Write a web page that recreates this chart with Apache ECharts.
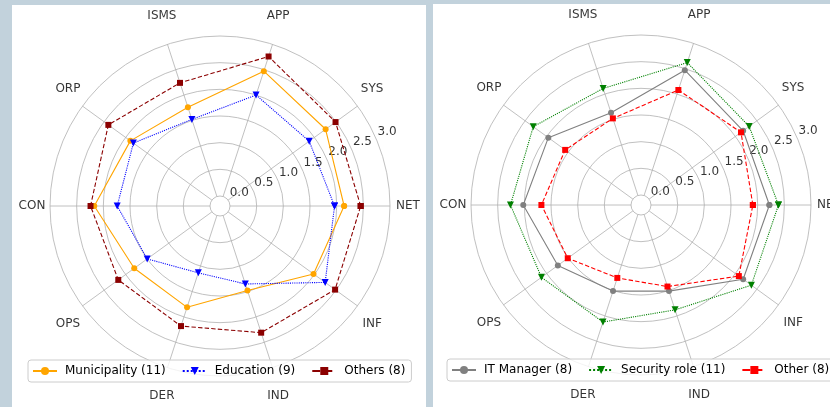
<!DOCTYPE html>
<html>
<head>
<meta charset="utf-8">
<script src="https://cdn.jsdelivr.net/npm/echarts@6/dist/echarts.min.js"></script>
<style>
  html, body { margin: 0; padding: 0; }
  body { width: 830px; height: 407px; background: #c2d2dc; position: relative; overflow: hidden; }
  .panel { position: absolute; background: #fff; }
  #chartLeft { left: 12px; top: 5px; width: 414px; height: 402px; }
  #chartRight { left: 433px; top: 4px; width: 397px; height: 403px; }
</style>
</head>
<body>
<div class="panel" id="chartLeft"></div>
<div class="panel" id="chartRight"></div>
<script>
// categories, counter-clockwise from 0 degrees
const categories = ['NET', 'SYS', 'APP', 'ISMS', 'ORP', 'CON', 'OPS', 'DER', 'IND', 'INF'];
const radialTicks = [0, 0.5, 1.0, 1.5, 2.0, 2.5, 3.0];

// left chart: sector
const municipality = [2.14, 2.26, 2.47, 1.76, 1.89, 2.17, 1.80, 1.81, 1.48, 1.98];
const education = [1.96, 1.88, 2.00, 1.52, 1.82, 1.74, 1.50, 1.13, 1.35, 2.25];
const others = [2.45, 2.49, 2.76, 2.24, 2.40, 2.24, 2.17, 2.18, 2.31, 2.48];

// right chart: role
const itManager = [2.22, 2.18, 2.47, 1.63, 1.96, 2.02, 1.74, 1.51, 1.51, 2.18];
const securityRole = [2.39, 2.32, 2.62, 2.11, 2.31, 2.26, 2.12, 2.12, 1.88, 2.37];
const otherRole = [1.91, 2.13, 2.08, 1.52, 1.57, 1.68, 1.51, 1.25, 1.42, 2.08];

const FONT = 'DejaVu Sans';
const GRID = '#b0b0b0';

const angleOf = (i) => i * 360 / categories.length;

function toPolar(vals) {
  let pts = vals.map((v, i) => [v, angleOf(i)]);
  pts.push(pts[0]); // close the loop
  return pts;
}

function lineSeries(name, vals, color, type, symbol) {
  return {
    name: name,
    type: 'line',
    coordinateSystem: 'polar',
    data: toPolar(vals),
    symbol: symbol,
    symbolSize: symbol === 'triangle' ? 7 : 6,
    symbolRotate: symbol === 'triangle' ? 180 : 0,
    itemStyle: { color: color },
    lineStyle: { color: color, width: 1.1, type: type },
    z: 3,
  };
}

function buildOption(series, legendLeft, itemGap) {
  return {
    animation: false,
    polar: {
      center: [208, 201],
      radius: [10, 170],
    },
    angleAxis: {
      type: 'value',
      min: 0,
      max: 360,
      interval: 36,
      startAngle: 0,
      clockwise: false,
      axisLine: { show: false },
      axisTick: { show: false },
      axisLabel: { show: false },
      splitLine: { lineStyle: { color: GRID, width: 0.8 } },
    },
    radiusAxis: {
      min: 0,
      max: 3,
      interval: 0.5,
      axisLine: { show: false },
      axisTick: { show: false },
      axisLabel: { show: false },
      splitLine: { lineStyle: { color: GRID, width: 0.8 } },
    },
    legend: {
      left: legendLeft,
      top: 355,
      width: 480,
      orient: 'horizontal',
      itemWidth: 24,
      itemHeight: 10,
      itemGap: itemGap,
      padding: [5, 6, 5, 4],
      backgroundColor: 'rgba(255,255,255,0.8)',
      borderColor: '#cccccc',
      borderWidth: 1,
      borderRadius: 3,
      selectedMode: false,
      textStyle: { fontFamily: FONT, fontSize: 12, color: '#000', padding: [0, 0, 0, 3] },
      data: series.map((s) => s.name),
    },
    series: [
      ...series,
      {
        // category names outside the outer ring
        type: 'scatter',
        coordinateSystem: 'polar',
        silent: true,
        symbolSize: 0,
        data: categories.map((c, i) => {
          const a = angleOf(i) * Math.PI / 180;
          return {
            value: [3, angleOf(i)],
            label: { offset: [18 * Math.cos(a), -30 * Math.sin(a)] },
          };
        }),
        label: {
          show: true,
          position: 'inside',
          color: '#000',
          fontFamily: FONT,
          fontSize: 12,
          formatter: (p) => categories[p.dataIndex],
        },
        z: 1,
      },
      {
        // radial tick labels at 22.5 degrees
        type: 'scatter',
        coordinateSystem: 'polar',
        silent: true,
        symbolSize: 0,
        data: radialTicks.map((t) => [t, 22.5]),
        label: {
          show: true,
          position: 'inside',
          offset: [10, -9],
          color: '#000',
          fontFamily: FONT,
          fontSize: 12,
          formatter: (p) => p.value[0].toFixed(1),
        },
        z: 2,
      },
    ],
  };
}

const leftChart = echarts.init(document.getElementById('chartLeft'));
leftChart.setOption(buildOption([
  lineSeries('Municipality (11)', municipality, '#ffa500', 'solid', 'circle'),
  lineSeries('Education (9)', education, '#0000ff', 'dotted', 'triangle'),
  lineSeries('Others (8)', others, '#8b0000', 'dashed', 'rect'),
], 16, 16));

const rightChart = echarts.init(document.getElementById('chartRight'));
rightChart.setOption(buildOption([
  lineSeries('IT Manager (8)', itManager, '#808080', 'solid', 'circle'),
  lineSeries('Security role (11)', securityRole, '#008000', 'dotted', 'triangle'),
  lineSeries('Other (8)', otherRole, '#ff0000', 'dashed', 'rect'),
], 14, 16));
</script>
</body>
</html>
